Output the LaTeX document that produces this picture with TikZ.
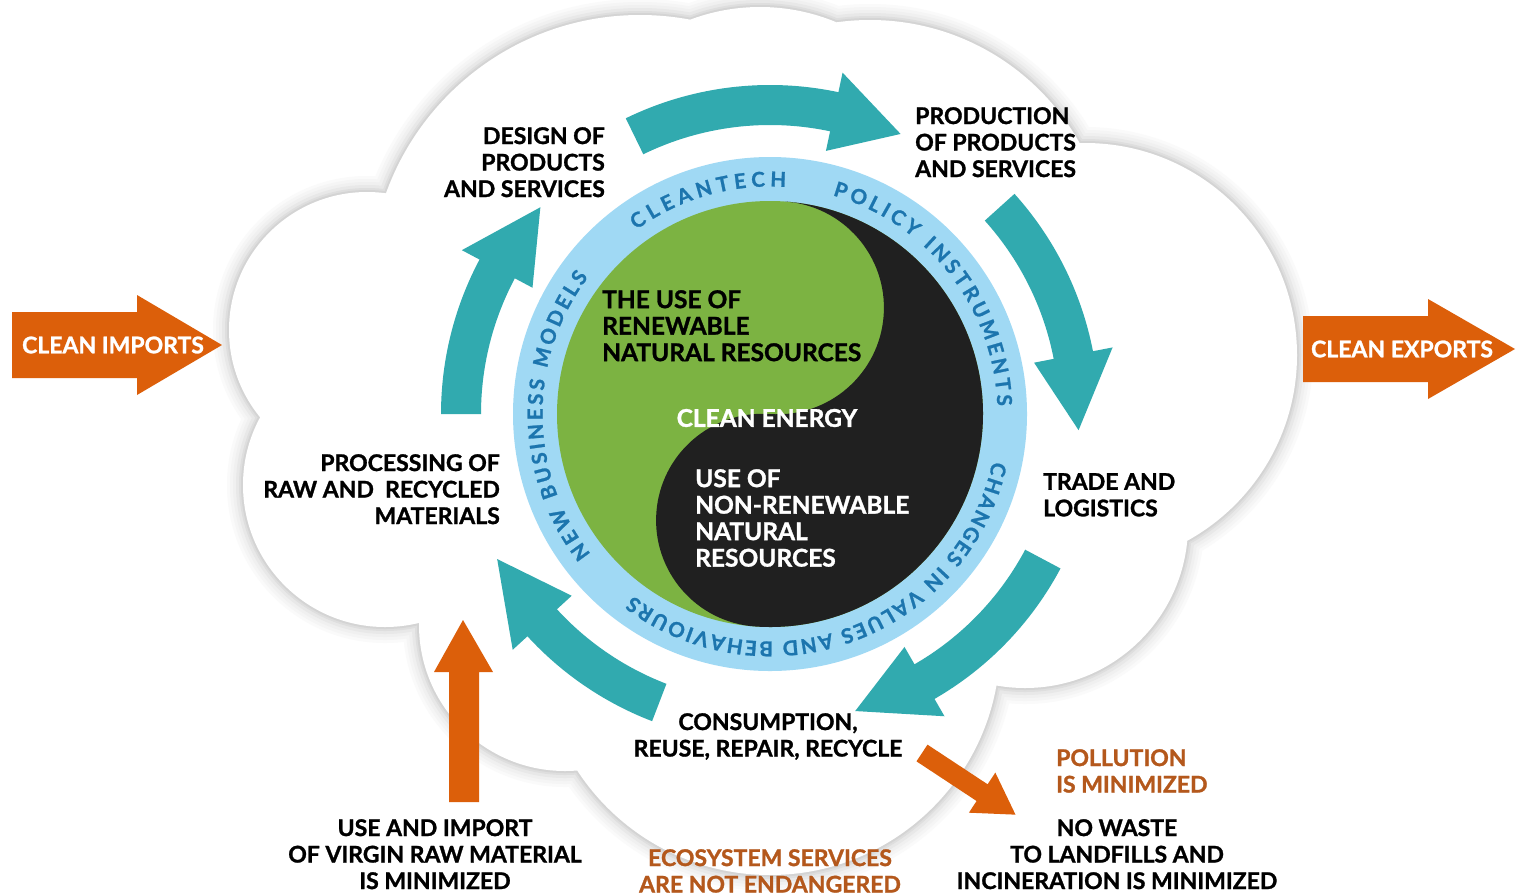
\documentclass[tikz,border=0pt]{standalone}
\usepackage{fontspec}
\setmainfont{Lato}[BoldFeatures={FakeBold=1.2}]
\usetikzlibrary{decorations.text}
\definecolor{tealA}{RGB}{49,170,175}
\definecolor{ringA}{RGB}{160,217,244}
\definecolor{ringtxt}{RGB}{28,117,174}
\definecolor{yygreen}{RGB}{124,179,66}
\definecolor{yyblack}{RGB}{32,32,32}
\definecolor{orA}{RGB}{220,95,10}
\definecolor{orT}{RGB}{180,88,28}
\newcommand\cloudlobes[1]{%
 (640,-285) circle[radius=270+#1]
 (760,-205) circle[radius=198+#1]
 (870,-260) circle[radius=240+#1]
 (1085,-355) circle[radius=212+#1]
 (1025,-525) circle[radius=163+#1]
 (770,-645) circle[radius=230+#1]
 (565,-625) circle[radius=146+#1]
 (385,-485) circle[radius=142+#1]
 (367,-330) circle[radius=138+#1]
 (770,-414) circle[radius=300+#1]}
\newcommand\cyclearrow[3]{\fill[tealA] (#1:329) arc[start angle=#1,end angle=#2,radius=329] -- (#2:349) -- (#3:309) -- (#2:269) -- (#2:289) arc[start angle=#2,end angle=#1,radius=289] -- cycle;}
\newcommand\ringfont{\bfseries\fontsize{20.5}{20.5}\selectfont\color{ringtxt}}
\newcommand\ringtext[3]{\path[decorate,decoration={text along path,text align={fit to path},text={|\ringfont|#3}}] (#1:227.5) arc[start angle=#1,end angle=#2,radius=227.5];}
\tikzset{
 lbl/.style={font=\bfseries\fontsize{23}{26.5}\selectfont, inner sep=0pt, text=black},
 inlbl/.style={font=\bfseries\fontsize{24.5}{26.5}\selectfont, inner sep=0pt, text=black},
 olbl/.style={lbl, text=orT},
 wlbl/.style={inlbl, text=white},
 arrlbl/.style={lbl, text=white},
 bigarrow/.style={fill=orA}
}
\begin{document}
\begin{tikzpicture}[x=1pt,y=1pt]
\useasboundingbox (0,0) rectangle (1517,-895);
\fill[white] (0,0) rectangle (1517,-895);
% cloud with soft shadow
\foreach \d/\c in {16/2,13/4,10/6,7/9,4/13,2/17}{\fill[black!\c] \cloudlobes{\d};}
\fill[white] \cloudlobes{0};
% cycle arrows
\begin{scope}[shift={(770,-414)}]
\cyclearrow{180}{152}{138}
\cyclearrow{116}{78}{65}
\cyclearrow{42}{11}{-3}
\cyclearrow{-28}{-60}{-74}
\cyclearrow{-111}{-137.5}{-152}
\fill[ringA] (0,0) circle[radius=257];
\begin{scope}[rotate=-4]
\fill[yygreen] (0,0) circle[radius=213];
\fill[yyblack] (0,213) arc[start angle=90,end angle=-90,radius=213] arc[start angle=-90,end angle=-270,radius=106.5] arc[start angle=-90,end angle=90,radius=106.5] -- cycle;
\end{scope}
\ringtext{126}{86}{CLEANTECH}
\ringtext{74}{2}{POLICY INSTRUMENTS}
\ringtext{-12}{-127}{CHANGES IN VALUES AND BEHAVIOURS}
\ringtext{218}{143}{NEW BUSINESS MODELS}
\end{scope}
% centre texts
\node[inlbl, anchor=north west, align=left] (renew) at (602,-290) {THE USE OF\\RENEWABLE\\NATURAL RESOURCES};
\node[wlbl] (energy) at (767,-418) {CLEAN ENERGY};
\node[wlbl, anchor=north west, align=left] (nonrenew) at (695,-469) {USE OF\\NON-RENEWABLE\\NATURAL\\RESOURCES};
% stage labels
\node[lbl, anchor=north east, align=right] (design) at (605,-127) {DESIGN OF\\PRODUCTS\\AND SERVICES};
\node[lbl, anchor=north west, align=left] (production) at (915,-107) {PRODUCTION\\OF PRODUCTS\\AND SERVICES};
\node[lbl, anchor=north west, align=left] (trade) at (1043,-473) {TRADE AND\\LOGISTICS};
\node[lbl, anchor=north, align=center] (consumption) at (768,-713) {CONSUMPTION,\\REUSE, REPAIR, RECYCLE};
\node[lbl, anchor=north east, align=right] (processing) at (500,-454) {PROCESSING OF\\RAW AND \ RECYCLED\\MATERIALS};
\node[lbl, anchor=north, align=center] (virgin) at (435,-819) {USE AND IMPORT\\OF VIRGIN RAW MATERIAL\\IS MINIMIZED};
\node[olbl, anchor=north, align=center] (eco) at (770,-849) {ECOSYSTEM SERVICES\\ARE NOT ENDANGERED};
\node[olbl, anchor=north west, align=left] (pollution) at (1056,-749) {POLLUTION\\IS MINIMIZED};
\node[lbl, anchor=north, align=center] (waste) at (1117,-819) {NO WASTE\\TO LANDFILLS AND\\INCINERATION IS MINIMIZED};
% orange arrows
\fill[bigarrow] (12,-312) -- (137,-312) -- (137,-295) -- (222,-345) -- (137,-395) -- (137,-378) -- (12,-378) -- cycle;
\node[arrlbl] (imports) at (113,-345) {CLEAN IMPORTS};
\fill[bigarrow] (1303,-316) -- (1428,-316) -- (1428,-299) -- (1515,-349) -- (1428,-399) -- (1428,-382) -- (1303,-382) -- cycle;
\node[arrlbl] (exports) at (1402,-349) {CLEAN EXPORTS};
\fill[bigarrow] (449,-802) -- (449,-672) -- (434,-672) -- (463,-620) -- (493,-672) -- (479,-672) -- (479,-802) -- cycle;
\begin{scope}[shift={(922,-753)}, rotate=-33.4]
\fill[bigarrow] (0,10) -- (72,10) -- (72,24) -- (112,0) -- (72,-24) -- (72,-10) -- (0,-10) -- cycle;
\end{scope}
\end{tikzpicture}
\end{document}
